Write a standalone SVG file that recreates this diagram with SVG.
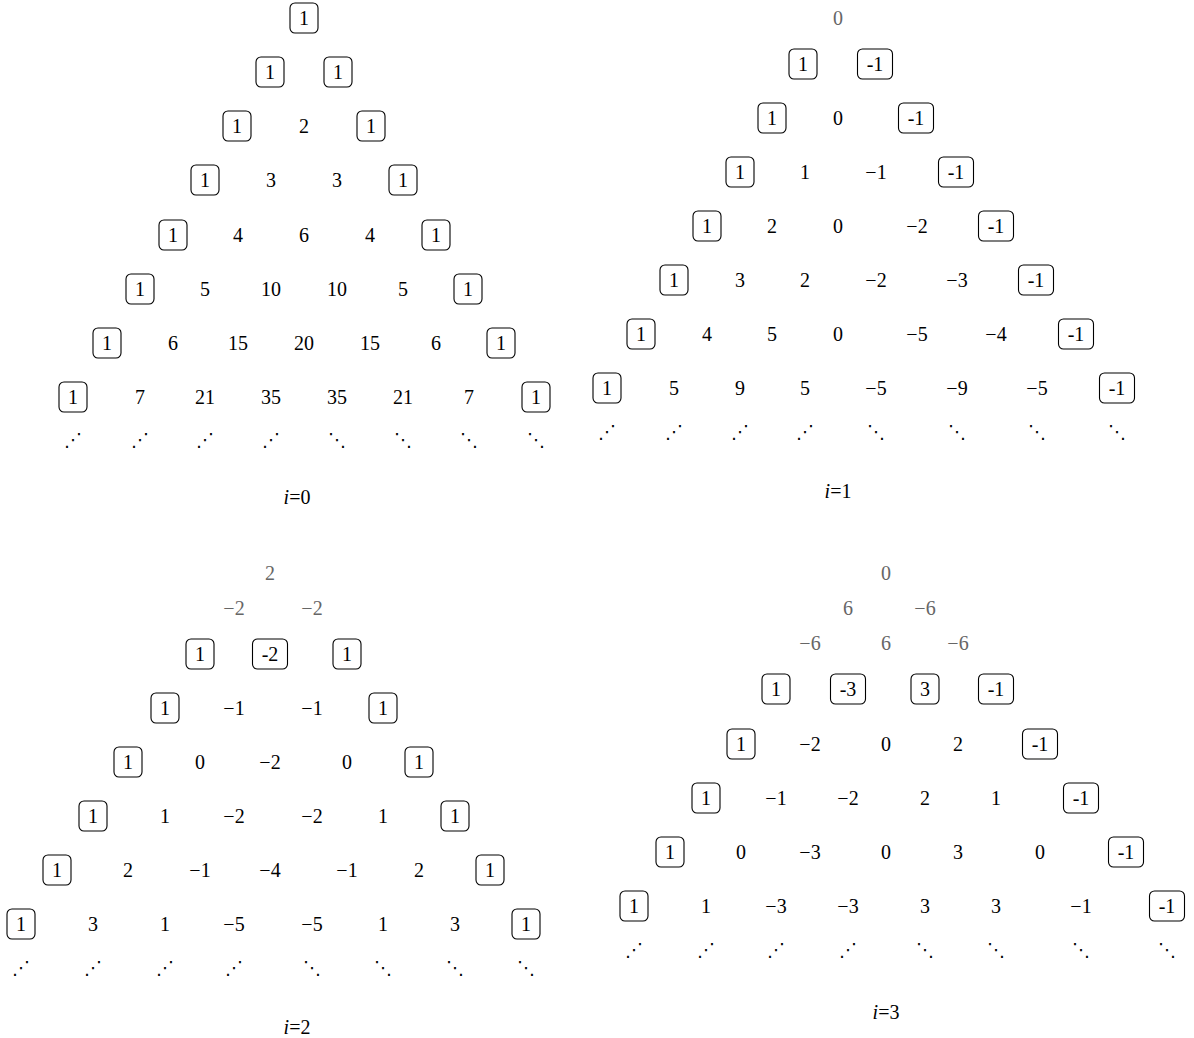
<svg xmlns="http://www.w3.org/2000/svg" width="1194" height="1038" viewBox="0 0 1194 1038">
<style>
text{font-family:"Liberation Serif","DejaVu Serif",serif;font-size:20px;text-anchor:middle;fill:#000}
.g{fill:#666}
.d{font-family:"DejaVu Sans",sans-serif;font-size:18px}
.it{font-style:italic}
rect{fill:none;stroke:#000;stroke-width:1.1}
</style>
<defs>
<rect id="b1" x="-14" y="-15" width="28" height="30" rx="5"/>
<rect id="b2" x="-17.5" y="-15" width="35" height="30" rx="5"/>
</defs>
<g id="connectors"/>
<!-- i=0 -->
<g id="tri0">
<g id="t0r0c0" transform="translate(304,18)"><use href="#b1"/><text y="7">1</text></g>
<g id="t0r1c0" transform="translate(270,72)"><use href="#b1"/><text y="7">1</text></g>
<g id="t0r1c1" transform="translate(338,72)"><use href="#b1"/><text y="7">1</text></g>
<g id="t0r2c0" transform="translate(237,126)"><use href="#b1"/><text y="7">1</text></g>
<g id="t0r2c1" transform="translate(304,126)"><text y="7">2</text></g>
<g id="t0r2c2" transform="translate(371,126)"><use href="#b1"/><text y="7">1</text></g>
<g id="t0r3c0" transform="translate(205,180)"><use href="#b1"/><text y="7">1</text></g>
<g id="t0r3c1" transform="translate(271,180)"><text y="7">3</text></g>
<g id="t0r3c2" transform="translate(337,180)"><text y="7">3</text></g>
<g id="t0r3c3" transform="translate(403,180)"><use href="#b1"/><text y="7">1</text></g>
<g id="t0r4c0" transform="translate(173,235)"><use href="#b1"/><text y="7">1</text></g>
<g id="t0r4c1" transform="translate(238,235)"><text y="7">4</text></g>
<g id="t0r4c2" transform="translate(304,235)"><text y="7">6</text></g>
<g id="t0r4c3" transform="translate(370,235)"><text y="7">4</text></g>
<g id="t0r4c4" transform="translate(436,235)"><use href="#b1"/><text y="7">1</text></g>
<g id="t0r5c0" transform="translate(140,289)"><use href="#b1"/><text y="7">1</text></g>
<g id="t0r5c1" transform="translate(205,289)"><text y="7">5</text></g>
<g id="t0r5c2" transform="translate(271,289)"><text y="7">10</text></g>
<g id="t0r5c3" transform="translate(337,289)"><text y="7">10</text></g>
<g id="t0r5c4" transform="translate(403,289)"><text y="7">5</text></g>
<g id="t0r5c5" transform="translate(468,289)"><use href="#b1"/><text y="7">1</text></g>
<g id="t0r6c0" transform="translate(107,343)"><use href="#b1"/><text y="7">1</text></g>
<g id="t0r6c1" transform="translate(173,343)"><text y="7">6</text></g>
<g id="t0r6c2" transform="translate(238,343)"><text y="7">15</text></g>
<g id="t0r6c3" transform="translate(304,343)"><text y="7">20</text></g>
<g id="t0r6c4" transform="translate(370,343)"><text y="7">15</text></g>
<g id="t0r6c5" transform="translate(436,343)"><text y="7">6</text></g>
<g id="t0r6c6" transform="translate(501,343)"><use href="#b1"/><text y="7">1</text></g>
<g id="t0r7c0" transform="translate(73,397)"><use href="#b1"/><text y="7">1</text></g>
<g id="t0r7c1" transform="translate(140,397)"><text y="7">7</text></g>
<g id="t0r7c2" transform="translate(205,397)"><text y="7">21</text></g>
<g id="t0r7c3" transform="translate(271,397)"><text y="7">35</text></g>
<g id="t0r7c4" transform="translate(337,397)"><text y="7">35</text></g>
<g id="t0r7c5" transform="translate(403,397)"><text y="7">21</text></g>
<g id="t0r7c6" transform="translate(469,397)"><text y="7">7</text></g>
<g id="t0r7c7" transform="translate(536,397)"><use href="#b1"/><text y="7">1</text></g>
<g id="t0dots">
<text class="d" x="73" y="446">⋰</text><text class="d" x="140" y="446">⋰</text><text class="d" x="205" y="446">⋰</text><text class="d" x="271" y="446">⋰</text>
<text class="d" x="337" y="446">⋱</text><text class="d" x="403" y="446">⋱</text><text class="d" x="469" y="446">⋱</text><text class="d" x="536" y="446">⋱</text>
</g>
<g id="t0label"><text x="297" y="504"><tspan class="it">i</tspan>=0</text></g>
</g>
<!-- i=1 -->
<g id="tri1">
<g id="t1r0c0" transform="translate(838,18)"><text class="g" y="7">0</text></g>
<g id="t1r1c0" transform="translate(803,64)"><use href="#b1"/><text y="7">1</text></g>
<g id="t1r1c1" transform="translate(875,64)"><use href="#b2"/><text y="7">-1</text></g>
<g id="t1r2c0" transform="translate(772,118)"><use href="#b1"/><text y="7">1</text></g>
<g id="t1r2c1" transform="translate(838,118)"><text y="7">0</text></g>
<g id="t1r2c2" transform="translate(916,118)"><use href="#b2"/><text y="7">-1</text></g>
<g id="t1r3c0" transform="translate(740,172)"><use href="#b1"/><text y="7">1</text></g>
<g id="t1r3c1" transform="translate(805,172)"><text y="7">1</text></g>
<g id="t1r3c2" transform="translate(876,172)"><text y="7">−1</text></g>
<g id="t1r3c3" transform="translate(956,172)"><use href="#b2"/><text y="7">-1</text></g>
<g id="t1r4c0" transform="translate(707,226)"><use href="#b1"/><text y="7">1</text></g>
<g id="t1r4c1" transform="translate(772,226)"><text y="7">2</text></g>
<g id="t1r4c2" transform="translate(838,226)"><text y="7">0</text></g>
<g id="t1r4c3" transform="translate(917,226)"><text y="7">−2</text></g>
<g id="t1r4c4" transform="translate(996,226)"><use href="#b2"/><text y="7">-1</text></g>
<g id="t1r5c0" transform="translate(674,280)"><use href="#b1"/><text y="7">1</text></g>
<g id="t1r5c1" transform="translate(740,280)"><text y="7">3</text></g>
<g id="t1r5c2" transform="translate(805,280)"><text y="7">2</text></g>
<g id="t1r5c3" transform="translate(876,280)"><text y="7">−2</text></g>
<g id="t1r5c4" transform="translate(957,280)"><text y="7">−3</text></g>
<g id="t1r5c5" transform="translate(1036,280)"><use href="#b2"/><text y="7">-1</text></g>
<g id="t1r6c0" transform="translate(641,334)"><use href="#b1"/><text y="7">1</text></g>
<g id="t1r6c1" transform="translate(707,334)"><text y="7">4</text></g>
<g id="t1r6c2" transform="translate(772,334)"><text y="7">5</text></g>
<g id="t1r6c3" transform="translate(838,334)"><text y="7">0</text></g>
<g id="t1r6c4" transform="translate(917,334)"><text y="7">−5</text></g>
<g id="t1r6c5" transform="translate(996,334)"><text y="7">−4</text></g>
<g id="t1r6c6" transform="translate(1076,334)"><use href="#b2"/><text y="7">-1</text></g>
<g id="t1r7c0" transform="translate(607,388)"><use href="#b1"/><text y="7">1</text></g>
<g id="t1r7c1" transform="translate(674,388)"><text y="7">5</text></g>
<g id="t1r7c2" transform="translate(740,388)"><text y="7">9</text></g>
<g id="t1r7c3" transform="translate(805,388)"><text y="7">5</text></g>
<g id="t1r7c4" transform="translate(876,388)"><text y="7">−5</text></g>
<g id="t1r7c5" transform="translate(957,388)"><text y="7">−9</text></g>
<g id="t1r7c6" transform="translate(1037,388)"><text y="7">−5</text></g>
<g id="t1r7c7" transform="translate(1117,388)"><use href="#b2"/><text y="7">-1</text></g>
<g id="t1dots">
<text class="d" x="607" y="438">⋰</text><text class="d" x="674" y="438">⋰</text><text class="d" x="740" y="438">⋰</text><text class="d" x="805" y="438">⋰</text>
<text class="d" x="876" y="438">⋱</text><text class="d" x="957" y="438">⋱</text><text class="d" x="1037" y="438">⋱</text><text class="d" x="1117" y="438">⋱</text>
</g>
<g id="t1label"><text x="838" y="498"><tspan class="it">i</tspan>=1</text></g>
</g>
<!-- i=2 -->
<g id="tri2">
<g id="t2g0" transform="translate(270,573)"><text class="g" y="7">2</text></g>
<g id="t2g1a" transform="translate(234,608)"><text class="g" y="7">−2</text></g>
<g id="t2g1b" transform="translate(312,608)"><text class="g" y="7">−2</text></g>
<g id="t2r2c0" transform="translate(200,654)"><use href="#b1"/><text y="7">1</text></g>
<g id="t2r2c1" transform="translate(270,654)"><use href="#b2"/><text y="7">-2</text></g>
<g id="t2r2c2" transform="translate(347,654)"><use href="#b1"/><text y="7">1</text></g>
<g id="t2r3c0" transform="translate(165,708)"><use href="#b1"/><text y="7">1</text></g>
<g id="t2r3c1" transform="translate(234,708)"><text y="7">−1</text></g>
<g id="t2r3c2" transform="translate(312,708)"><text y="7">−1</text></g>
<g id="t2r3c3" transform="translate(383,708)"><use href="#b1"/><text y="7">1</text></g>
<g id="t2r4c0" transform="translate(128,762)"><use href="#b1"/><text y="7">1</text></g>
<g id="t2r4c1" transform="translate(200,762)"><text y="7">0</text></g>
<g id="t2r4c2" transform="translate(270,762)"><text y="7">−2</text></g>
<g id="t2r4c3" transform="translate(347,762)"><text y="7">0</text></g>
<g id="t2r4c4" transform="translate(419,762)"><use href="#b1"/><text y="7">1</text></g>
<g id="t2r5c0" transform="translate(93,816)"><use href="#b1"/><text y="7">1</text></g>
<g id="t2r5c1" transform="translate(165,816)"><text y="7">1</text></g>
<g id="t2r5c2" transform="translate(234,816)"><text y="7">−2</text></g>
<g id="t2r5c3" transform="translate(312,816)"><text y="7">−2</text></g>
<g id="t2r5c4" transform="translate(383,816)"><text y="7">1</text></g>
<g id="t2r5c5" transform="translate(455,816)"><use href="#b1"/><text y="7">1</text></g>
<g id="t2r6c0" transform="translate(57,870)"><use href="#b1"/><text y="7">1</text></g>
<g id="t2r6c1" transform="translate(128,870)"><text y="7">2</text></g>
<g id="t2r6c2" transform="translate(200,870)"><text y="7">−1</text></g>
<g id="t2r6c3" transform="translate(270,870)"><text y="7">−4</text></g>
<g id="t2r6c4" transform="translate(347,870)"><text y="7">−1</text></g>
<g id="t2r6c5" transform="translate(419,870)"><text y="7">2</text></g>
<g id="t2r6c6" transform="translate(490,870)"><use href="#b1"/><text y="7">1</text></g>
<g id="t2r7c0" transform="translate(21,924)"><use href="#b1"/><text y="7">1</text></g>
<g id="t2r7c1" transform="translate(93,924)"><text y="7">3</text></g>
<g id="t2r7c2" transform="translate(165,924)"><text y="7">1</text></g>
<g id="t2r7c3" transform="translate(234,924)"><text y="7">−5</text></g>
<g id="t2r7c4" transform="translate(312,924)"><text y="7">−5</text></g>
<g id="t2r7c5" transform="translate(383,924)"><text y="7">1</text></g>
<g id="t2r7c6" transform="translate(455,924)"><text y="7">3</text></g>
<g id="t2r7c7" transform="translate(526,924)"><use href="#b1"/><text y="7">1</text></g>
<g id="t2dots">
<text class="d" x="21" y="974">⋰</text><text class="d" x="93" y="974">⋰</text><text class="d" x="165" y="974">⋰</text><text class="d" x="234" y="974">⋰</text>
<text class="d" x="312" y="974">⋱</text><text class="d" x="383" y="974">⋱</text><text class="d" x="455" y="974">⋱</text><text class="d" x="526" y="974">⋱</text>
</g>
<g id="t2label"><text x="297" y="1034"><tspan class="it">i</tspan>=2</text></g>
</g>
<!-- i=3 -->
<g id="tri3">
<g id="t3g0" transform="translate(886,573)"><text class="g" y="7">0</text></g>
<g id="t3g1a" transform="translate(848,608)"><text class="g" y="7">6</text></g>
<g id="t3g1b" transform="translate(925,608)"><text class="g" y="7">−6</text></g>
<g id="t3g2a" transform="translate(810,643)"><text class="g" y="7">−6</text></g>
<g id="t3g2b" transform="translate(886,643)"><text class="g" y="7">6</text></g>
<g id="t3g2c" transform="translate(958,643)"><text class="g" y="7">−6</text></g>
<g id="t3r3c0" transform="translate(776,689)"><use href="#b1"/><text y="7">1</text></g>
<g id="t3r3c1" transform="translate(848,689)"><use href="#b2"/><text y="7">-3</text></g>
<g id="t3r3c2" transform="translate(925,689)"><use href="#b1"/><text y="7">3</text></g>
<g id="t3r3c3" transform="translate(996,689)"><use href="#b2"/><text y="7">-1</text></g>
<g id="t3r4c0" transform="translate(741,744)"><use href="#b1"/><text y="7">1</text></g>
<g id="t3r4c1" transform="translate(810,744)"><text y="7">−2</text></g>
<g id="t3r4c2" transform="translate(886,744)"><text y="7">0</text></g>
<g id="t3r4c3" transform="translate(958,744)"><text y="7">2</text></g>
<g id="t3r4c4" transform="translate(1040,744)"><use href="#b2"/><text y="7">-1</text></g>
<g id="t3r5c0" transform="translate(706,798)"><use href="#b1"/><text y="7">1</text></g>
<g id="t3r5c1" transform="translate(776,798)"><text y="7">−1</text></g>
<g id="t3r5c2" transform="translate(848,798)"><text y="7">−2</text></g>
<g id="t3r5c3" transform="translate(925,798)"><text y="7">2</text></g>
<g id="t3r5c4" transform="translate(996,798)"><text y="7">1</text></g>
<g id="t3r5c5" transform="translate(1081,798)"><use href="#b2"/><text y="7">-1</text></g>
<g id="t3r6c0" transform="translate(670,852)"><use href="#b1"/><text y="7">1</text></g>
<g id="t3r6c1" transform="translate(741,852)"><text y="7">0</text></g>
<g id="t3r6c2" transform="translate(810,852)"><text y="7">−3</text></g>
<g id="t3r6c3" transform="translate(886,852)"><text y="7">0</text></g>
<g id="t3r6c4" transform="translate(958,852)"><text y="7">3</text></g>
<g id="t3r6c5" transform="translate(1040,852)"><text y="7">0</text></g>
<g id="t3r6c6" transform="translate(1126,852)"><use href="#b2"/><text y="7">-1</text></g>
<g id="t3r7c0" transform="translate(634,906)"><use href="#b1"/><text y="7">1</text></g>
<g id="t3r7c1" transform="translate(706,906)"><text y="7">1</text></g>
<g id="t3r7c2" transform="translate(776,906)"><text y="7">−3</text></g>
<g id="t3r7c3" transform="translate(848,906)"><text y="7">−3</text></g>
<g id="t3r7c4" transform="translate(925,906)"><text y="7">3</text></g>
<g id="t3r7c5" transform="translate(996,906)"><text y="7">3</text></g>
<g id="t3r7c6" transform="translate(1081,906)"><text y="7">−1</text></g>
<g id="t3r7c7" transform="translate(1167,906)"><use href="#b2"/><text y="7">-1</text></g>
<g id="t3dots">
<text class="d" x="634" y="956">⋰</text><text class="d" x="706" y="956">⋰</text><text class="d" x="776" y="956">⋰</text><text class="d" x="848" y="956">⋰</text>
<text class="d" x="925" y="956">⋱</text><text class="d" x="996" y="956">⋱</text><text class="d" x="1081" y="956">⋱</text><text class="d" x="1167" y="956">⋱</text>
</g>
<g id="t3label"><text x="886" y="1019"><tspan class="it">i</tspan>=3</text></g>
</g>
</svg>
